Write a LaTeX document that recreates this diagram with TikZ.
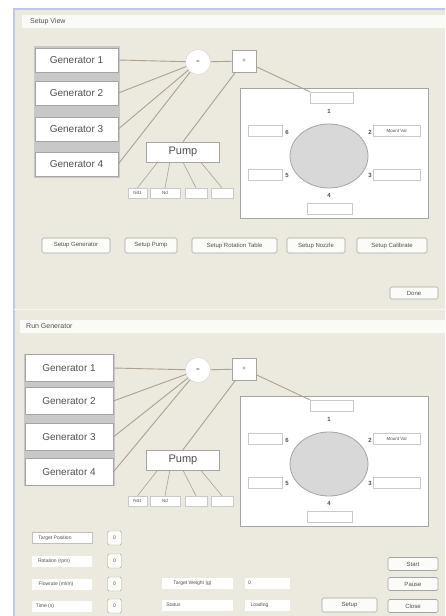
\documentclass[tikz,border=0pt]{standalone}
\usepackage{fontspec}
\setmainfont{Liberation Sans}
\usetikzlibrary{shapes.geometric,arrows.meta}
\definecolor{winbg}{RGB}{236,233,222}
\definecolor{wirec}{RGB}{172,162,142}
\definecolor{framec}{RGB}{165,165,165}
\definecolor{bluebar}{RGB}{185,200,235}
\definecolor{discfill}{RGB}{216,216,216}
\definecolor{gengap}{RGB}{200,200,200}
\definecolor{txtc}{RGB}{80,80,80}
\tikzset{
  wireline/.style={draw=wirec, line width=0.9pt},
  genbox/.style={draw=framec, fill=white, line width=0.6pt, text=txtc, font=\fontsize{10}{12}\selectfont},
  pumpbox/.style={draw=framec, fill=white, line width=0.6pt, text=txtc, minimum width=73, minimum height=20, font=\fontsize{11}{13}\selectfont},
  eqnode/.style={circle, draw=framec!50, fill=white, minimum size=25, inner sep=0, text=txtc, font=\fontsize{6}{7}\selectfont},
  plusnode/.style={rectangle, draw=framec, fill=white, minimum width=24, minimum height=22, inner sep=0, text=txtc, font=\fontsize{6}{7}\selectfont},
  smallbox/.style={draw=framec!60, fill=white, minimum height=10, inner sep=0, text=txtc, font=\fontsize{4.5}{5}\selectfont},
  rotpanel/.style={draw=framec, fill=white, line width=0.7pt},
  disc/.style={ellipse, draw=framec, fill=discfill, line width=0.8pt, minimum width=78, minimum height=64},
  fieldbox/.style={draw=framec!60, fill=white, minimum height=11, inner sep=1pt, text=txtc, font=\fontsize{4.5}{5}\selectfont},
  numlab/.style={text=txtc, font=\bfseries\fontsize{6}{7}\selectfont, inner sep=0},
  btn/.style={draw=framec, fill=white!80!winbg, rounded corners=1.5pt, line width=0.6pt, text=txtc, font=\fontsize{6}{7}\selectfont, inner sep=0},
  titlebar/.style={fill=white!75!winbg, minimum height=13, inner sep=0},
  titletext/.style={text=txtc, font=\fontsize{7}{8}\selectfont, anchor=west, inner sep=0},
  lblfield/.style={fill=white, minimum height=11, inner sep=1pt, text=txtc, font=\fontsize{5}{6}\selectfont},
  zerobtn/.style={draw=framec, fill=white!80!winbg, rounded corners=1.5pt, minimum width=14, minimum height=14, inner sep=0, text=txtc, font=\fontsize{5}{6}\selectfont}
}
\newcommand\rigview[5]{%
\begin{scope}[shift={(0,#2)}]
  \fill[gengap] (#3-#4/2-1.5,46) rectangle (#3+#4/2+1.5,178);
  \node[genbox, minimum width=#4, minimum height=#5] (#1ga) at (#3,60) {Generator 1};
  \node[genbox, minimum width=#4, minimum height=#5] (#1gb) at (#3,93) {Generator 2};
  \node[genbox, minimum width=#4, minimum height=#5] (#1gc) at (#3,129) {Generator 3};
  \node[genbox, minimum width=#4, minimum height=#5] (#1gd) at (#3,164) {Generator 4};
  \node[eqnode] (#1eq) at (198,62) {=};
  \node[plusnode] (#1pl) at (244,61) {+};
  \node[rotpanel, minimum width=188, minimum height=130] (#1rp) at (334,153) {};
  \node[pumpbox] (#1pump) at (183,152) {Pump};
  \draw[wireline] (#1ga.east) -- (#1eq);
  \draw[wireline] (#1gb.east) -- (#1eq);
  \draw[wireline] (#1gc.east) -- (#1eq);
  \draw[wireline] (#1gd.east) -- (#1eq);
  \draw[wireline] (#1eq) -- (#1pl);
  \draw[wireline] (#1pl) -- (#1pump.north);
  \node[smallbox, minimum width=19] (#1ba) at (137.5,193) {Nd1};
  \node[smallbox, minimum width=30] (#1bb) at (165,193) {Nd};
  \node[smallbox, minimum width=22] (#1bc) at (196,193) {};
  \node[smallbox, minimum width=22] (#1bd) at (222,193) {};
  \draw[wireline, line width=0.6pt] (#1pump.-158) -- (#1ba.north);
  \draw[wireline, line width=0.6pt] (#1pump.-142) -- (#1bb.north);
  \draw[wireline, line width=0.6pt] (#1pump.-90) -- (#1bc.north);
  \draw[wireline, line width=0.6pt] (#1pump.-30) -- (#1bd.north);
  \node[fieldbox, minimum width=43] (#1tb) at (331.5,97.5) {};
  \draw[wireline] (#1pl) -- (#1tb.north west);
  \node[disc] (#1disc) at (329,156) {};
  \node[fieldbox, minimum width=34] (#1fl) at (265,131) {};
  \node[fieldbox, minimum width=47, anchor=west] (#1fr) at (373,131) {Mount Val};
  \node[fieldbox, minimum width=34] (#1fm) at (265,175) {};
  \node[fieldbox, minimum width=47] (#1fn) at (396.5,175) {};
  \node[fieldbox, minimum width=45] (#1fb) at (330,208.5) {};
  \node[numlab] (#1na) at (329,111) {1};
  \node[numlab] (#1nb) at (370,132) {2};
  \node[numlab] (#1nc) at (370,175) {3};
  \node[numlab] (#1nd) at (329,195) {4};
  \node[numlab] (#1ne) at (287,175) {5};
  \node[numlab] (#1nf) at (287,132) {6};
\end{scope}}
\begin{document}
\begin{tikzpicture}[x=1pt,y=-1pt]
  \useasboundingbox (0,0) rectangle (445,616);
  \fill[white] (0,0) rectangle (445,616);
  \fill[winbg] (14,9) rectangle (445,616);
  \draw[bluebar, line width=1.2pt] (14,616) -- (14,9) -- (445,9);
  % window 1
  \node[titlebar, minimum width=423, anchor=west] (t1) at (22,21.5) {};
  \node[titletext] (t1t) at (30,21.5) {Setup View};
  \rigview{u}{0}{76.5}{83}{24}
  \node[btn, minimum width=68, minimum height=15] (s1) at (76,245.5) {Setup Generator};
  \node[btn, minimum width=52, minimum height=15] (s2) at (151,245.5) {Setup Pump};
  \node[btn, minimum width=85, minimum height=15] (s3) at (234.5,245.5) {Setup Rotation Table};
  \node[btn, minimum width=58, minimum height=15] (s4) at (316,245.5) {Setup Nozzle};
  \node[btn, minimum width=70, minimum height=15] (s5) at (392,245.5) {Setup Calibrate};
  \node[btn, minimum width=48, minimum height=12] (done) at (414,293) {Done};
  \draw[white!60!winbg, line width=1pt] (14,309) -- (445,309);
  % window 2
  \node[titlebar, minimum width=425, anchor=west] (t2) at (20,326.5) {};
  \node[titletext] (t2t) at (26,326.5) {Run Generator};
  \rigview{d}{308}{69}{88}{27}
  \node[lblfield, draw=framec!70, minimum width=60] (l1) at (62,538) {\hspace*{-14pt}Target Position};
  \node[lblfield, minimum width=60] (l2) at (62,561) {\hspace*{-16pt}Rotation (rpm)};
  \node[lblfield, minimum width=60] (l3) at (62,584) {\hspace*{-12pt}Flowrate (ml/m)};
  \node[lblfield, minimum width=60] (l4) at (62,606) {\hspace*{-34pt}Time (s)};
  \node[zerobtn] (z1) at (114.5,538) {0};
  \node[zerobtn] (z2) at (114.5,561) {0};
  \node[zerobtn] (z3) at (114.5,584) {0};
  \node[zerobtn] (z4) at (114.5,606) {0};
  \node[lblfield, minimum width=71] (tw) at (197.5,583) {\hspace*{-10pt}Target Weight (g)};
  \node[lblfield, minimum width=45] (twv) at (267.5,583) {\hspace*{-36pt}0};
  \node[lblfield, minimum width=71] (st) at (197.5,605) {\hspace*{-48pt}Status};
  \node[lblfield, minimum width=45] (stv) at (267.5,605) {\hspace*{-16pt}Loading};
  \node[btn, minimum width=55, minimum height=14] (setb) at (349.5,605) {Setup};
  \node[btn, minimum width=50, minimum height=13] (start) at (413,564) {Start};
  \node[btn, minimum width=50, minimum height=13] (pause) at (413,584) {Pause};
  \node[btn, minimum width=50, minimum height=13] (close) at (413,606) {Close};
\end{tikzpicture}
\end{document}
